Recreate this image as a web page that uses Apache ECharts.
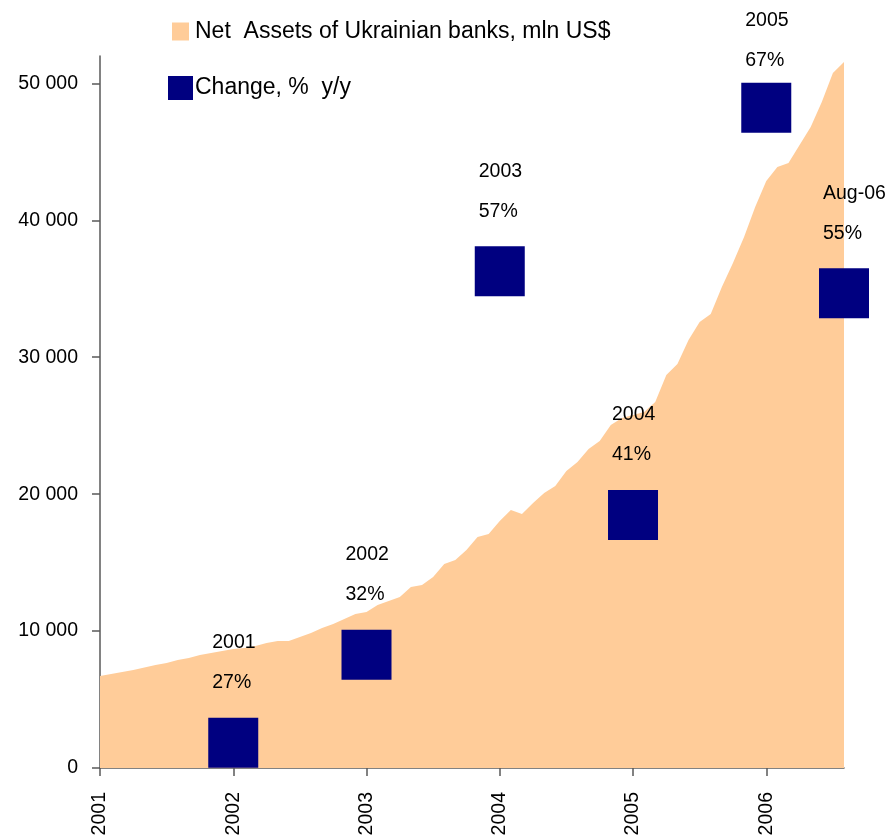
<!DOCTYPE html>
<html>
<head>
<meta charset="utf-8">
<script src="https://cdn.jsdelivr.net/npm/echarts@6/dist/echarts.min.js"></script>
<style>
html,body{margin:0;padding:0;background:#fff;}
#chart{width:890px;height:836px;}
</style>
</head>
<body>
<div id="chart"></div>
<script>
// Months Jan-2001 .. Aug-2006 (categories)
const years = ['2001','2002','2003','2004','2005','2006'];
const monthNums = ['01','02','03','04','05','06','07','08','09','10','11','12'];
const months = [];
years.forEach(function (y) { monthNums.forEach(function (m) { if (!(y === '2006' && +m > 8)) months.push(y + '-' + m); }); });

// Net assets of Ukrainian banks, mln US$ (monthly)
const netAssets = [
  6720, 6865, 7010, 7157, 7340, 7522, 7668, 7887, 8033, 8252, 8398, 8545,
  8690, 8764, 8910, 9129, 9275, 9275, 9567, 9859, 10224, 10516, 10881, 11247,
  11393, 11904, 12196, 12488, 13218, 13364, 13949, 14898, 15190, 15921, 16870, 17089,
  18038, 18842, 18550, 19353, 20083, 20594, 21690, 22347, 23297, 23881, 25049, 25560,
  25780, 25999, 26729, 28700, 29504, 31257, 32571, 33156, 35127, 36880, 38779, 40970,
  42869, 43891, 44183, 45498, 46812, 48638, 50756, 51559
];

// Change, % y/y
const changeMonths = ['2002-01', '2003-01', '2004-01', '2005-01', '2006-01', '2006-08'];
const changeValues = [26.6, 32.2, 56.6, 41.1, 67.0, 55.2];
const changeTitles = ['2001', '2002', '2003', '2004', '2005', 'Aug-06'];
const changeLabels = ['27%', '32%', '57%', '41%', '67%', '55%'];

const yTicks = [0, 10000, 20000, 30000, 40000, 50000];

const FONT = "'Liberation Sans', Arial, sans-serif";
const NUM_SIZE = 19.5;

const chart = echarts.init(document.getElementById('chart'), null, {renderer: 'canvas'});

const scatterData = changeMonths.map(function (m, i) {
  const d = { value: [m, changeValues[i]], title: changeTitles[i], pct: changeLabels[i] };
  if (changeTitles[i] === '2005') d.label = { offset: [-21, 13] };
  return d;
});

chart.setOption({
  animation: false,
  backgroundColor: '#ffffff',
  textStyle: { fontFamily: FONT },
  legend: [
    {
      left: 172, top: 20, padding: 0,
      itemWidth: 17, itemHeight: 18, itemGap: 0,
      icon: 'rect',
      data: [{ name: 'Net  Assets of Ukrainian banks, mln US$', icon: 'rect' }],
      textStyle: { fontFamily: FONT, fontSize: 23, color: '#000', padding: [0, 0, 0, 1] },
      selectedMode: false
    },
    {
      left: 168, top: 76, padding: 0,
      itemWidth: 25, itemHeight: 24, itemGap: 0,
      icon: 'rect',
      data: [{ name: 'Change, %  y/y', icon: 'rect' }],
      textStyle: { fontFamily: FONT, fontSize: 23, color: '#000', padding: [0, 0, 0, -3] },
      selectedMode: false
    }
  ],
  grid: {
    left: 100, right: 46, top: 56, bottom: 68,
    containLabel: false, outerBoundsMode: 'none'
  },
  xAxis: {
    type: 'category',
    data: months,
    boundaryGap: false,
    axisLine: { lineStyle: { color: '#595959', width: 1.5 } },
    axisTick: {
      length: 8,
      interval: function (idx) { return idx % 12 === 0; },
      lineStyle: { color: '#595959', width: 1.5 }
    },
    axisLabel: {
      interval: function (idx) { return idx % 12 === 0; },
      formatter: function (v) { return v.slice(0, 4); },
      rotate: 90,
      margin: 24,
      fontFamily: FONT, fontSize: NUM_SIZE, color: '#000'
    },
    splitLine: { show: false }
  },
  yAxis: [
    {
      type: 'value',
      min: 0, max: 52000,
      axisLine: { show: true, lineStyle: { color: '#595959', width: 1.5 } },
      axisTick: { show: true, length: 8, customValues: yTicks, lineStyle: { color: '#595959', width: 1.5 } },
      axisLabel: {
        customValues: yTicks,
        margin: 22,
        fontFamily: FONT, fontSize: NUM_SIZE, color: '#000',
        formatter: function (v) { return v === 0 ? '0' : (v / 1000) + ' 000'; }
      },
      splitLine: { show: false }
    },
    {
      type: 'value',
      min: 25, max: 70.3,
      show: false,
      splitLine: { show: false }
    }
  ],
  series: [
    {
      name: 'Net  Assets of Ukrainian banks, mln US$',
      type: 'line',
      data: netAssets,
      symbol: 'none',
      lineStyle: { width: 0, color: '#FFCC99' },
      itemStyle: { color: '#FFCC99' },
      areaStyle: { color: '#FFCC99', opacity: 1 },
      z: 1
    },
    {
      name: 'Change, %  y/y',
      type: 'scatter',
      yAxisIndex: 1,
      data: scatterData,
      symbol: 'rect',
      symbolSize: [50, 50],
      itemStyle: { color: '#000080', opacity: 1 },
      label: {
        show: true,
        position: 'top',
        distance: 15,
        align: 'left',
        offset: [-21, 0],
        lineHeight: 40,
        opacity: 1,
        fontFamily: FONT, fontSize: NUM_SIZE, color: '#000',
        formatter: function (p) { return p.data.title + '\n' + p.data.pct; }
      },
      z: 3
    }
  ]
});
</script>
</body>
</html>
